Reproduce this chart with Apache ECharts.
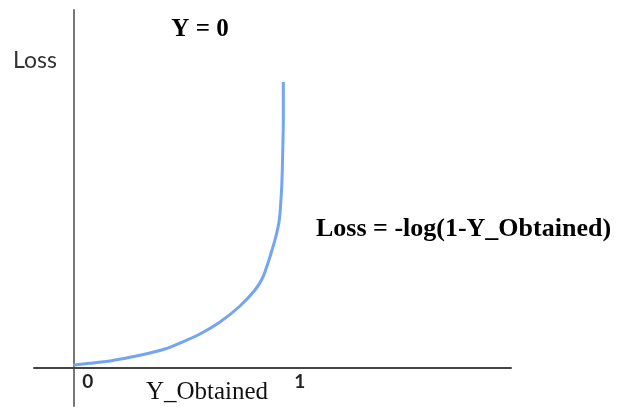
<!DOCTYPE html>
<html>
<head>
<meta charset="utf-8">
<script src="https://cdn.jsdelivr.net/npm/echarts@6/dist/echarts.min.js"></script>
<style>
  html, body { margin: 0; padding: 0; background: #fff; }
  #chart { width: 619px; height: 410px; }
</style>
</head>
<body>
<div id="chart"></div>
<script>
// Y_Obtained values (predicted probability) and the matching loss for true label Y = 0
const yObtained = [0, 0.0788, 0.1797, 0.2675, 0.3618, 0.4325, 0.5033, 0.5976, 0.6920, 0.7863, 0.8571, 0.8925, 0.9184, 0.9373, 0.9561, 0.9717, 0.9830, 0.9877, 0.9906, 0.9906];
const lossValues = [0.023, 0.040, 0.066, 0.100, 0.143, 0.183, 0.243, 0.333, 0.453, 0.613, 0.773, 0.893, 1.043, 1.173, 1.313, 1.473, 1.803, 2.143, 2.473, 2.853];
// Tick labels shown on the horizontal axis
const xTicks = [0, 1];

const curve = yObtained.map((x, i) => [x, lossValues[i]]);

const chart = echarts.init(document.getElementById('chart'), null, { renderer: 'canvas' });

chart.setOption({
  animation: false,
  backgroundColor: '#ffffff',
  grid: { left: 34, right: 108, top: 10, bottom: 4, containLabel: false, outerBoundsMode: 'none' },
  xAxis: {
    type: 'value',
    min: -0.1854,
    max: 2.0646,
    splitLine: { show: false },
    axisTick: { show: false },
    axisLabel: { show: false },
    axisLine: { onZero: true, lineStyle: { color: '#444', width: 2 } }
  },
  yAxis: {
    type: 'value',
    min: -0.387,
    max: 3.573,
    splitLine: { show: false },
    axisTick: { show: false },
    axisLabel: { show: false },
    axisLine: { onZero: true, lineStyle: { color: '#777', width: 2 } }
  },
  series: [{
    type: 'line',
    data: curve,
    smooth: 0.3,
    showSymbol: false,
    lineStyle: { color: '#74a4f4', width: 3 }
  }],
  graphic: [
    {
      type: 'text', x: 200, y: 30,
      style: { text: 'Y = 0', font: 'bold 25px "Liberation Serif"', fill: '#000', align: 'center', verticalAlign: 'middle' }
    },
    {
      type: 'text', x: 13, y: 61,
      style: { text: 'Loss', font: '23px Lato', fill: '#333', align: 'left', verticalAlign: 'middle' }
    },
    {
      type: 'text', x: 316, y: 229,
      style: { text: 'Loss = -log(1-Y_Obtained)', font: 'bold 26px "Liberation Serif"', fill: '#000', align: 'left', verticalAlign: 'middle' }
    },
    {
      type: 'text', x: 207, y: 392,
      style: { text: 'Y_Obtained', font: '25px "Liberation Serif"', fill: '#111', align: 'center', verticalAlign: 'middle' }
    }
  ]
});

// Tick labels sit just below and right of each tick value on the x axis
const tickLabels = xTicks.map((v, i) => {
  const p = chart.convertToPixel({ gridIndex: 0 }, [v, 0]);
  return {
    id: 'tick' + i,
    type: 'text',
    x: p[0] + 14.5,
    y: p[1] + 15,
    style: { text: String(v), font: 'bold 19px Lato', fill: '#222', align: 'center', verticalAlign: 'middle' }
  };
});
chart.setOption({ graphic: tickLabels });
</script>
</body>
</html>
